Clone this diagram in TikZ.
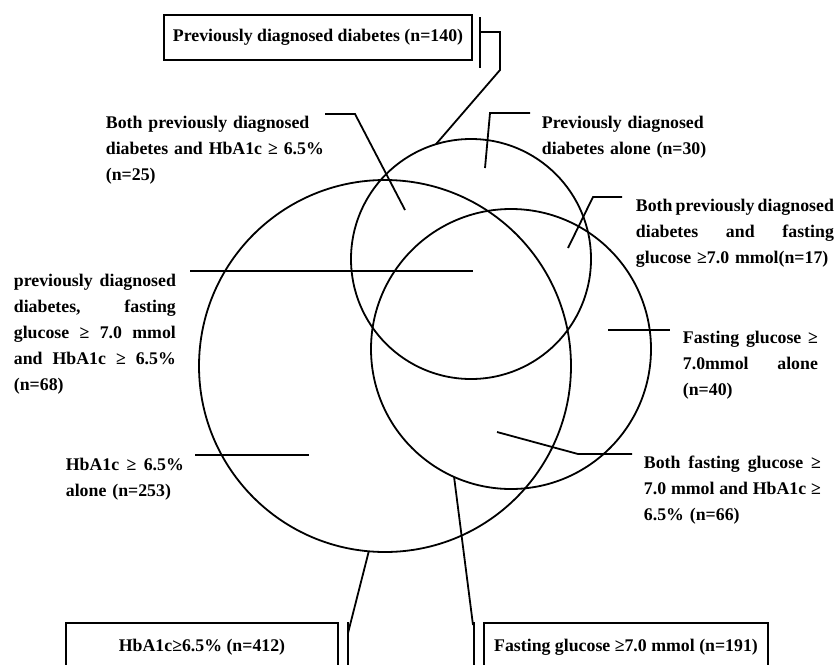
\documentclass[tikz,border=0pt]{standalone}
\usepackage{fontspec}
\setmainfont{Liberation Serif}
\usetikzlibrary{positioning}
\newcommand{\jline}[2]{\leavevmode\hbox to #1pt{\spaceskip=.25em plus 1fil minus .12em\relax #2}\\}

\begin{document}
\begin{tikzpicture}[x=1pt, y=-1pt, line width=1.8pt,
        every node/.style={font=\fontsize{17.8pt}{26pt}\selectfont\bfseries},
        set/.style={draw, circle, inner sep=0pt, outer sep=0pt},
        obox/.style={draw, line width=2.2pt, inner ysep=0pt},
        lbl/.style={anchor=north west, align=left, inner sep=0pt}]
      \useasboundingbox (0,0) rectangle (837,664);
      \clip (0,0) rectangle (837,664);
      % the three sets
      \node[set, minimum size=240] (pdd) at (471,259) {};
      \node[set, minimum size=372] (hba) at (385,366) {};
      \node[set, minimum size=280] (fpg) at (511,349) {};
      % totals
      \node[obox, minimum width=308, minimum height=45] (pddBox) at (318,37.5)
        {Previously diagnosed diabetes (n=140)};
      \node[obox, minimum width=272, text height=12pt, text depth=44pt,
        inner ysep=16pt, anchor=north] (hbaBox) at (202,622) {HbA1c≥6.5\% (n=412)};
      \node[obox, minimum width=284, text height=12pt, text depth=44pt,
        inner ysep=16pt, anchor=north] (fpgBox) at (626,622)
        {Fasting glucose ≥7.0 mmol (n=191)};
      % region labels
      \node[lbl, text width=220] (pddHba) at (105,115)
        {Both previously diagnosed\\diabetes and HbA1c ≥ 6.5\%\\(n=25)};
      \node[lbl, text width=170] (pddOnly) at (541,115)
        {Previously diagnosed\\diabetes alone (n=30)};
      \node[lbl, text width=198] (pddFpg) at (635,198)
        {\jline{198}{Both previously diagnosed}\jline{198}{diabetes and fasting}glucose ≥7.0 mmol(n=17)};
      \node[lbl, text width=162] (allThree) at (13,273)
        {\jline{162}{previously diagnosed}\jline{162}{diabetes, fasting}\jline{162}{glucose ≥ 7.0 mmol}\jline{162}{and HbA1c ≥ 6.5\%}(n=68)};
      \node[lbl, text width=135] (fpgOnly) at (682,330)
        {\jline{135}{Fasting glucose ≥}\jline{135}{7.0mmol alone}(n=40)};
      \node[lbl, text width=177] (fpgHba) at (643,455)
        {\jline{177}{Both fasting glucose ≥}\jline{177}{7.0 mmol and HbA1c ≥}6.5\% (n=66)};
      \node[lbl, text width=118] (hbaOnly) at (65,457)
        {\jline{118}{HbA1c ≥ 6.5\%}alone (n=253)};
      % leader points
      \coordinate (pddTop) at (480,32);
      \coordinate (pddBend) at (500,70);
      \coordinate (aStart) at (325,114);
      \coordinate (aBend) at (355,114);
      \coordinate (aEnd) at (405,210);
      \coordinate (bStart) at (530,113);
      \coordinate (bBend) at (490,113);
      \coordinate (bEnd) at (485,168);
      \coordinate (cStart) at (622,197);
      \coordinate (cBend) at (593,197);
      \coordinate (cEnd) at (568,248);
      \coordinate (dStart) at (190,271);
      \coordinate (dEnd) at (473,271);
      \coordinate (eStart) at (608,330);
      \coordinate (eEnd) at (670,330);
      \coordinate (fStart) at (497,432);
      \coordinate (fBend) at (578,454);
      \coordinate (fEnd) at (632,454);
      \coordinate (gStart) at (195,455);
      \coordinate (gEnd) at (309,455);
      \coordinate (hbaBend) at (348,633);
      \coordinate (fpgBend) at (473,625);
      % leaders
      \draw (480,17) -- (480,68);
      \draw (pddTop) -- (500,32) -- (pddBend) -- (pdd.107);
      \draw (aStart) -- (aBend) -- (aEnd);
      \draw (bStart) -- (bBend) -- (bEnd);
      \draw (cStart) -- (cBend) -- (cEnd);
      \draw (dStart) -- (dEnd);
      \draw (eStart) -- (eEnd);
      \draw (fStart) -- (fBend) -- (fEnd);
      \draw (gStart) -- (gEnd);
      \draw (hba.265) -- (hbaBend);
      \draw (348,622) -- (348,670);
      \draw (fpg.246) -- (fpgBend);
      \draw (474,622) -- (474,670);
    \end{tikzpicture}
\end{document}
